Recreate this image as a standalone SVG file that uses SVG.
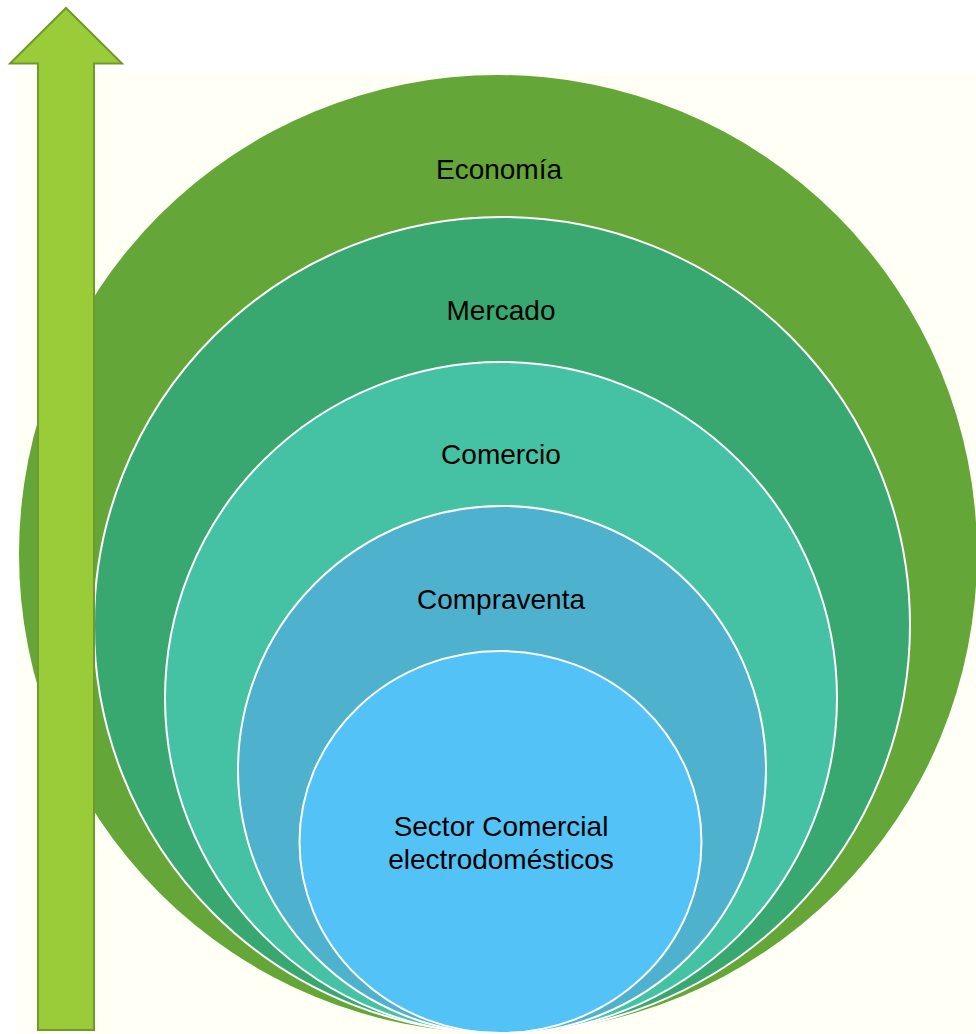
<svg xmlns="http://www.w3.org/2000/svg" width="976" height="1034" viewBox="0 0 976 1034">
<style>
.lbl{font-family:"Liberation Sans",Arial,sans-serif;font-size:28px;fill:#000;text-anchor:middle}
.ring{stroke:#fff;stroke-width:2}
</style>
<rect x="0" y="0" width="976" height="1034" fill="#fff"/>
<rect x="17" y="73" width="959" height="961" fill="#FFFFF5"/>
<g id="economia">
<circle cx="498" cy="554" r="479" fill="#64A637"/>
<text class="lbl" x="499" y="179">Economía</text>
</g>
<g id="mercado">
<circle class="ring" cx="502" cy="625" r="408" fill="#38A870"/>
<text class="lbl" x="501" y="320">Mercado</text>
</g>
<g id="comercio">
<circle class="ring" cx="501" cy="698" r="336" fill="#45C1A4"/>
<text class="lbl" x="501" y="464">Comercio</text>
</g>
<g id="compraventa">
<circle class="ring" cx="502" cy="770" r="264" fill="#4EB2CF"/>
<text class="lbl" x="501" y="609">Compraventa</text>
</g>
<g id="sector">
<ellipse class="ring" cx="500.5" cy="842" rx="201" ry="191" fill="#53C3F7"/>
<text class="lbl" x="501" y="836">Sector Comercial</text>
<text class="lbl" x="501" y="869">electrodomésticos</text>
</g>
<g id="connectors">
<polygon points="66,8 122,63.5 94,63.5 94,1030 38,1030 38,63.5 10,63.5" fill="#9ACB38" stroke="#71992A" stroke-width="2"/>
</g>
</svg>
